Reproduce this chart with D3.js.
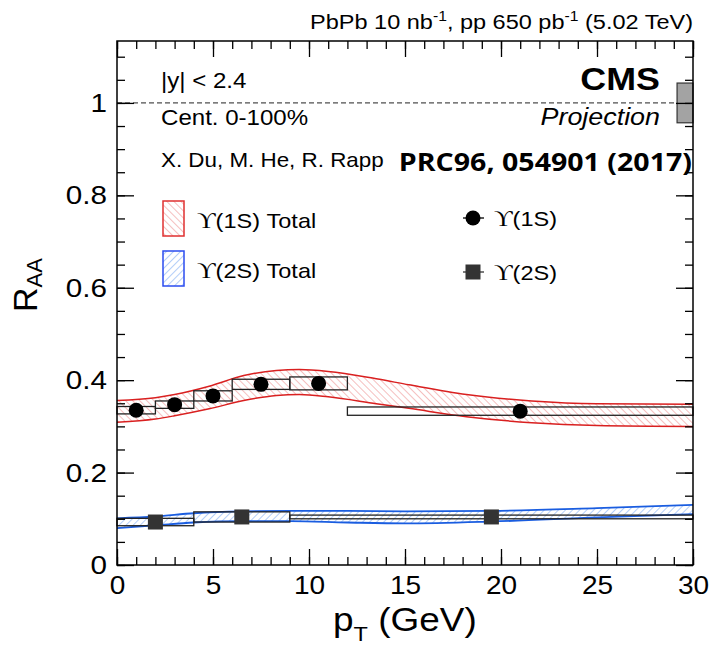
<!DOCTYPE html>
<html><head><meta charset="utf-8">
<script src="https://cdn.jsdelivr.net/npm/d3@7"></script>
<style>body{margin:0;background:#fff}</style>
</head><body><svg id="c" width="710" height="646" xmlns="http://www.w3.org/2000/svg"></svg>
<script>
// ---------- data ----------
const xTicksMajor = [0, 5, 10, 15, 20, 25, 30];
const xTickLabels = ["0", "5", "10", "15", "20", "25", "30"];
const yTicksMajor = [0, 0.2, 0.4, 0.6, 0.8, 1];
const yTickLabels = ["0", "0.2", "0.4", "0.6", "0.8", "1"];

const pt1S = [1, 3, 5, 7.5, 10.5, 21];
const raa1S = [0.335, 0.347, 0.366, 0.391, 0.393, 0.333];
const binLo1S = [0, 2, 4, 6, 9, 12];
const binHi1S = [2, 4, 6, 9, 12, 30];
const syst1S = [0.008, 0.008, 0.011, 0.011, 0.014, 0.009];

const pt2S = [2, 6.5, 19.5];
const raa2S = [0.093, 0.104, 0.104];
const binLo2S = [0, 4, 9];
const binHi2S = [4, 9, 30];
const syst2S = [0.008, 0.011, 0.004];

const band1SPt = [0, 2, 3, 4.8, 6.6, 8.3, 9.5, 11, 13.5, 15.2, 18.2, 21.6, 25, 30];
const band1SHi = [0.356, 0.362, 0.369, 0.387, 0.410, 0.421, 0.423, 0.419, 0.403, 0.390, 0.369, 0.355, 0.349, 0.348];
const band1SLo = [0.309, 0.316, 0.323, 0.338, 0.356, 0.367, 0.369, 0.364, 0.349, 0.339, 0.321, 0.308, 0.302, 0.300];

const band2SPt = [0, 2, 4, 6.5, 9, 12, 15, 19.5, 25, 30];
const band2SHi = [0.101, 0.105, 0.112, 0.116, 0.117, 0.117, 0.116, 0.117, 0.123, 0.130];
const band2SLo = [0.080, 0.086, 0.092, 0.095, 0.095, 0.092, 0.090, 0.094, 0.103, 0.110];

const normUnc = 0.043;

// ---------- setup ----------
const svg = d3.select("#c");
const L = 117, R = 693, TOP = 41, B = 565;
const x = d3.scaleLinear().domain([0, 30]).range([L, R]);
const y = d3.scaleLinear().domain([0, 1.134]).range([B, TOP]);
const SX = 1.12;
const SANS = "'Liberation Sans', Arial, Helvetica, sans-serif";
const SERIF = "'Liberation Serif', 'DejaVu Serif', serif";

const defs = svg.append("defs");
function hatch(id, color, angle) {
  const p = defs.append("pattern").attr("id", id).attr("patternUnits", "userSpaceOnUse")
    .attr("width", 5).attr("height", 5).attr("patternTransform", `rotate(${angle})`);
  p.append("line").attr("x1", 0).attr("y1", -1).attr("x2", 0).attr("y2", 6)
    .attr("stroke", color).attr("stroke-width", 1.1);
}
hatch("hRed", "#ec8a8a", -45);
hatch("hBlue", "#74a4f2", 45);

function T(parent, px, py, anchor) {
  const g = parent.append("g").attr("transform", `translate(${px},${py}) scale(${SX},1)`);
  return g.append("text").attr("text-anchor", anchor || "start").attr("font-family", SANS).attr("fill", "#000");
}

// ---------- bands ----------
function drawBand(pts, lo, hi, pat, col, w) {
  const d = pts.map((p, i) => ({ p, lo: lo[i], hi: hi[i] }));
  const area = d3.area().x(e => x(e.p)).y0(e => y(e.lo)).y1(e => y(e.hi)).curve(d3.curveMonotoneX);
  svg.append("path").datum(d).attr("d", area).attr("fill", `url(#${pat})`);
  const lHi = d3.line().x(e => x(e.p)).y(e => y(e.hi)).curve(d3.curveMonotoneX);
  const lLo = d3.line().x(e => x(e.p)).y(e => y(e.lo)).curve(d3.curveMonotoneX);
  svg.append("path").datum(d).attr("d", lHi).attr("fill", "none").attr("stroke", col).attr("stroke-width", w);
  svg.append("path").datum(d).attr("d", lLo).attr("fill", "none").attr("stroke", col).attr("stroke-width", w);
}
drawBand(band1SPt, band1SLo, band1SHi, "hRed", "#d92020", 1.5);
drawBand(band2SPt, band2SLo, band2SHi, "hBlue", "#1a5de0", 1.8);

// ---------- systematic boxes ----------
function drawSyst(lo, hi, val, sys) {
  svg.append("g").selectAll("rect").data(val).join("rect")
    .attr("x", (d, i) => x(lo[i])).attr("width", (d, i) => x(hi[i]) - x(lo[i]))
    .attr("y", (d, i) => y(d + sys[i])).attr("height", (d, i) => y(d - sys[i]) - y(d + sys[i]))
    .attr("fill", "none").attr("stroke", "#222").attr("stroke-width", 1.3);
}
drawSyst(binLo1S, binHi1S, raa1S, syst1S);
drawSyst(binLo2S, binHi2S, raa2S, syst2S);

// ---------- reference line + norm box ----------
svg.append("line").attr("x1", x(0)).attr("x2", x(30)).attr("y1", y(1)).attr("y2", y(1))
  .attr("stroke", "#222").attr("stroke-width", 1).attr("stroke-dasharray", "5,3");
svg.append("rect").attr("x", x(29.17)).attr("width", x(30) - x(29.17))
  .attr("y", y(1 + normUnc)).attr("height", y(1 - normUnc) - y(1 + normUnc))
  .attr("fill", "#a3a3a3").attr("stroke", "#333").attr("stroke-width", 1.2);

// ---------- points ----------
svg.append("g").selectAll("circle").data(pt1S).join("circle")
  .attr("cx", d => x(d)).attr("cy", (d, i) => y(raa1S[i])).attr("r", 7.5).attr("fill", "#000");
svg.append("g").selectAll("rect").data(pt2S).join("rect")
  .attr("x", d => x(d) - 7.5).attr("y", (d, i) => y(raa2S[i]) - 7.5)
  .attr("width", 15).attr("height", 15).attr("fill", "#333");

// ---------- frame & axes ----------
svg.append("rect").attr("x", L).attr("y", TOP).attr("width", R - L).attr("height", B - TOP)
  .attr("fill", "none").attr("stroke", "#000").attr("stroke-width", 1.5);

function axis(gen, tr, vals, size, labels, pad) {
  const g = svg.append("g").attr("transform", tr)
    .call(gen.tickValues(vals).tickSize(-size).tickPadding(pad || 3)
      .tickFormat(labels ? ((d, i) => labels[i]) : ""));
  g.select(".domain").remove();
  g.selectAll("line").attr("stroke", "#000").attr("stroke-width", 1.3);
  return g;
}
const xMinor = d3.range(0, 31, 1);
const yMinor = d3.range(0, 1.11, 0.05);
axis(d3.axisBottom(x), `translate(0,${B})`, xMinor, 8);
axis(d3.axisTop(x), `translate(0,${TOP})`, xMinor, 8);
axis(d3.axisLeft(y), `translate(${L},0)`, yMinor, 8);
axis(d3.axisRight(y), `translate(${R},0)`, yMinor, 8);
const gxb = axis(d3.axisBottom(x), `translate(0,${B})`, xTicksMajor, 16, xTickLabels, 11);
axis(d3.axisTop(x), `translate(0,${TOP})`, xTicksMajor, 16);
const gyl = axis(d3.axisLeft(y), `translate(${L},0)`, yTicksMajor, 17, yTickLabels, 9);
axis(d3.axisRight(y), `translate(${R},0)`, yTicksMajor, 17);
gxb.selectAll("text").attr("font-size", 25);
gyl.selectAll("text").attr("font-size", 26.5);
[gxb, gyl].forEach(g => g.selectAll("text").attr("font-family", SANS)
  .attr("fill", "#000").attr("transform", `scale(${SX},1)`));

// ---------- axis titles ----------
const yt = svg.append("g").attr("transform", "translate(37,285) rotate(-90)")
  .append("text").attr("text-anchor", "middle").attr("font-family", SANS);
yt.append("tspan").attr("font-size", 34).text("R");
yt.append("tspan").attr("font-size", 22).attr("dy", 5).text("AA");

const xt = T(svg, 333, 631, "start");
xt.append("tspan").attr("font-size", 33).text("p");
xt.append("tspan").attr("font-size", 21).attr("dy", 10).text("T");
xt.append("tspan").attr("font-size", 33).attr("dy", -10).text("\u00a0(GeV)");

// ---------- header ----------
const ht = T(svg, 693, 29, "end").attr("font-size", 21);
ht.append("tspan").text("PbPb 10 nb");
ht.append("tspan").attr("font-size", 14).attr("dy", -8).text("-1");
ht.append("tspan").attr("dy", 8).text(", pp 650 pb");
ht.append("tspan").attr("font-size", 14).attr("dy", -8).text("-1");
ht.append("tspan").attr("dy", 8).text(" (5.02 TeV)");

// ---------- annotations ----------
T(svg, 161, 88).attr("font-size", 21.5).text("|y| < 2.4");
T(svg, 161, 125).attr("font-size", 21.5).text("Cent. 0-100%");
T(svg, 161, 167).attr("font-size", 20).text("X. Du, M. He, R. Rapp");
T(svg, 692, 171, "end").attr("font-family", "'Open Sans', 'Noto Sans', sans-serif")
  .attr("font-weight", "bold").attr("font-size", 25.5).text("PRC96, 054901 (2017)");
T(svg, 660, 90, "end").attr("font-size", 32).attr("font-weight", "bold").text("CMS");
T(svg, 660, 125, "end").attr("font-size", 24).attr("font-style", "italic").text("Projection");

// ---------- legend ----------
svg.append("rect").attr("x", 163).attr("y", 201).attr("width", 21).attr("height", 35)
  .attr("fill", "url(#hRed)").attr("stroke", "#e03030").attr("stroke-width", 1.5);
svg.append("rect").attr("x", 163).attr("y", 251).attr("width", 21).attr("height", 35)
  .attr("fill", "url(#hBlue)").attr("stroke", "#2b4cf0").attr("stroke-width", 1.5);
function upsLabel(px, py, state, extra) {
  const t = T(svg, px, py).attr("font-size", 21);
  t.append("tspan").attr("font-family", SERIF).attr("font-size", 23).text("\u03d2");
  t.append("tspan").text(`(${state})${extra}`);
}
upsLabel(197, 228, "1S", " Total");
upsLabel(197, 278, "2S", " Total");
upsLabel(494, 226, "1S", "");
upsLabel(494, 280, "2S", "");
svg.append("line").attr("x1", 463).attr("x2", 484).attr("y1", 218).attr("y2", 218).attr("stroke", "#000").attr("stroke-width", 1.3);
svg.append("circle").attr("cx", 473).attr("cy", 218).attr("r", 7.5).attr("fill", "#000");
svg.append("line").attr("x1", 463).attr("x2", 484).attr("y1", 272).attr("y2", 272).attr("stroke", "#333").attr("stroke-width", 1.3);
svg.append("rect").attr("x", 465.5).attr("y", 264.5).attr("width", 15).attr("height", 15).attr("fill", "#333");
</script></body></html>
